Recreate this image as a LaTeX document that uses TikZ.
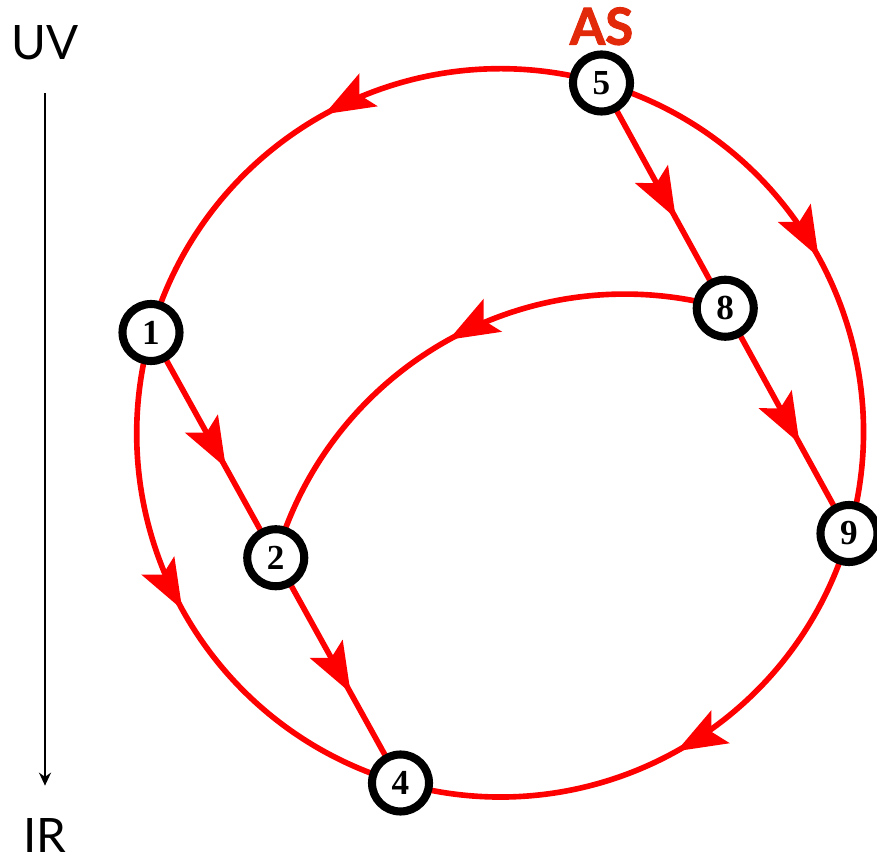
\documentclass[tikz,border=0pt]{standalone}
\usepackage{fontspec}
\setmainfont{Liberation Serif}
\newfontfamily\scalefont{Lato}
\newfontfamily\asfont[BoldFeatures={FakeBold=2}]{Lato}
\usetikzlibrary{positioning, arrows.meta, decorations.markings, backgrounds}
\definecolor{asred}{RGB}{226,41,10}

\begin{document}
\begin{tikzpicture}[
		% Define styles
		vertex/.style={circle, draw=black, line width=4.6pt, fill=white, minimum size=1.14cm, inner sep=0pt, font=\fontsize{20}{20}\selectfont\bfseries},
		rglabel/.style={inner sep=0pt, font=\scalefont\fontsize{27}{27}\selectfont},
		flow/.style={draw=red, line width=3.2pt, postaction={decorate},
			decoration={markings, mark=at position #1 with {\arrow{Stealth[length=1.0cm, width=0.74cm, inset=0.2cm]}}}},
		flow/.default=0.5,
		rgflow/.style={draw=black, line width=1.1pt, -{Stealth[length=0.26cm, width=0.24cm]}}
		]
		\useasboundingbox (0,0) rectangle (17.54,-17.30);
		
		% 1. Fixed points on the outer circle
		\node[vertex] (n5) at (12.03,-1.66) {5};
		\node[vertex] (n1) at (3.02,-6.65) {1};
		\node[vertex] (n4) at (8.01,-15.66) {4};
		\node[vertex] (n9) at (16.98,-10.67) {9};
		
		% 2. Fixed points on the chords
		\node[vertex] (n2) at (5.515,-11.155) {2};
		\node[vertex] (n8) at (14.505,-6.165) {8};
		
		% 3. Labels
		\node[inner sep=0pt, font=\asfont\fontsize{29}{29}\selectfont\bfseries, text=asred, above=0.1cm of n5] (as) {AS};
		\node[rglabel] (uv) at (0.9,-0.85) {UV};
		\node[rglabel] (ir) at (0.9,-16.72) {IR};
		
		% RG time arrow
		\draw[rgflow, shorten <=0.66cm, shorten >=0.66cm] (uv.south) -- (ir.north);
		
		\begin{pgfonlayer}{background}
			% Flows along the arcs
			\draw[flow] (n5.center) to[bend right=45] (n1.center);
			\draw[flow] (n5.center) to[bend left=45] (n9.center);
			\draw[flow] (n1.center) to[bend right=45] (n4.center);
			\draw[flow] (n9.center) to[bend left=45] (n4.center);
			\draw[flow] (n8.center) to[bend right=45] (n2.center);
			
			% Flows along the chords
			\draw[flow=0.6] (n5.center) -- (n8.center);
			\draw[flow=0.6] (n8.center) -- (n9.center);
			\draw[flow=0.6] (n1.center) -- (n2.center);
			\draw[flow=0.6] (n2.center) -- (n4.center);
		\end{pgfonlayer}
		
	\end{tikzpicture}
\end{document}
